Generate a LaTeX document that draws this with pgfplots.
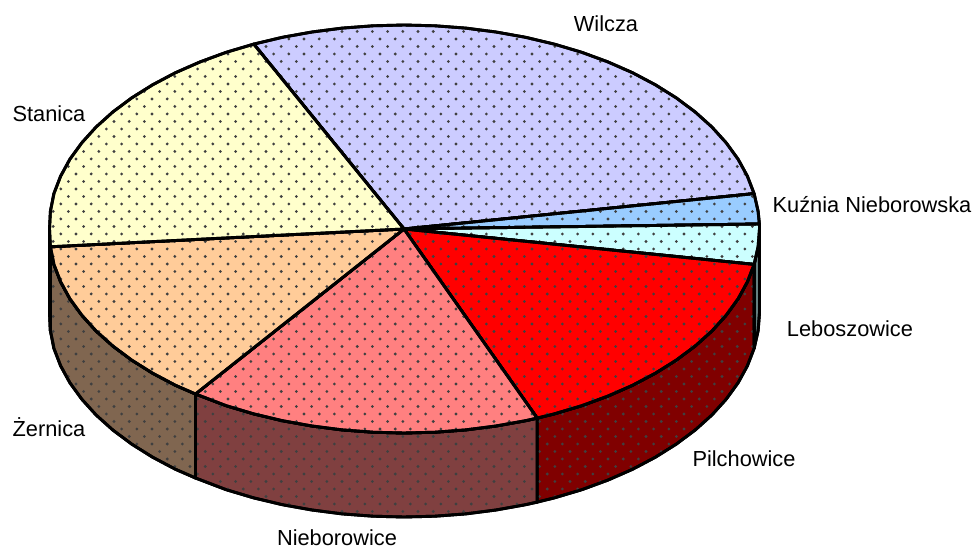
\documentclass[border=0pt]{standalone}
\usepackage{fontspec}
\setmainfont{Liberation Sans}
\usepackage{pgfplots}
\pgfplotsset{compat=1.18}
\usetikzlibrary{patterns}
\pgfdeclarepatternformonly{piedots}{\pgfqpoint{-2.5pt}{-2.5pt}}{\pgfqpoint{17.7pt}{17.5pt}}{\pgfqpoint{15.2pt}{15pt}}{
  \pgfpathcircle{\pgfqpoint{0pt}{0pt}}{1.55pt}
  \pgfpathcircle{\pgfqpoint{7.6pt}{7.5pt}}{1.55pt}
  \pgfusepath{fill}
}
\definecolor{cWil}{HTML}{CCCCFF}
\definecolor{cKuz}{HTML}{99CCFF}
\definecolor{cLeb}{HTML}{CCFFFF}
\definecolor{cPil}{HTML}{FF0000}
\definecolor{cNie}{HTML}{FF8080}
\definecolor{cZer}{HTML}{FFCC99}
\definecolor{cSta}{HTML}{FFFFCC}
\definecolor{sLeb}{HTML}{668080}
\definecolor{sPil}{HTML}{800000}
\definecolor{sNie}{HTML}{804040}
\definecolor{sZer}{HTML}{806650}
\definecolor{sSta}{HTML}{808066}
\tikzset{
  slice/.style={draw=black,line width=2.9pt,line join=round,preaction={fill=#1},pattern=piedots,pattern color=black!75},
  lab/.style={font=\fontsize{21.8pt}{26pt}\selectfont,inner sep=0pt}
}
\begin{document}
\begin{tikzpicture}
\begin{axis}[
  scale only axis,width=974pt,height=549pt,
  xmin=0,xmax=974,ymin=0,ymax=549,y dir=reverse,
  axis lines=none,clip=false]
\path (axis cs:0,0) rectangle (axis cs:974,549);
% side walls
\addplot[slice=sSta] coordinates {(49.5,229)(50.4,246.8)(50.4,330.8)(49.5,313)} --cycle;
\addplot[slice=sZer] coordinates {(50.4,246.8)(53.9,264.4)(60.6,281.8)(69.9,298.8)(81.8,315.2)(96.1,331)(112.8,346)(131.7,360.1)(152.6,373.2)(175.5,385.3)(195.5,394)
 (195.5,478)(175.5,469.3)(152.6,457.2)(131.7,444.1)(112.8,430)(96.1,415)(81.8,399.2)(69.9,382.8)(60.6,365.8)(53.9,348.4)(50.4,330.8)} --cycle;
\addplot[slice=sNie] coordinates {(195.5,394)(226.2,405.7)(253.8,413.9)(282.4,420.7)(312,426)(342.3,429.9)(373,432.2)(404,433)(435,432.2)(465.7,429.9)(496,426)(525.6,420.7)(537.2,418.1)
 (537.2,502.1)(525.6,504.7)(496,510)(465.7,513.9)(435,516.2)(404,517)(373,516.2)(342.3,513.9)(312,510)(282.4,504.7)(253.8,497.9)(226.2,489.7)(195.5,478)} --cycle;
\addplot[slice=sLeb] coordinates {(754.1,264.4)(758.1,246.8)(759.5,229)(759.5,313)(758.1,330.8)(754.1,348.4)} --cycle;
\addplot[slice=sPil] coordinates {(537.2,418.1)(554.2,413.9)(581.8,405.7)(607.9,396.1)(632.5,385.3)(655.4,373.2)(676.3,360.1)(695.2,346)(711.9,331)(726.2,315.2)(738.1,298.8)(747.4,281.8)(754.1,264.4)
 (754.1,348.4)(747.4,365.8)(738.1,382.8)(726.2,399.2)(711.9,415)(695.2,430)(676.3,444.1)(655.4,457.2)(632.5,469.3)(607.9,480.1)(581.8,489.7)(554.2,497.9)(537.2,502.1)} --cycle;
% top slices
\addplot[slice=cWil] coordinates {(404,229)(754.1,193.6)(747.4,176.2)(738.1,159.2)(726.2,142.8)(711.9,127)(695.2,112)(676.3,97.9)(655.4,84.8)(632.5,72.7)(607.9,61.9)(581.8,52.3)(554.2,44.1)(525.6,37.3)(496,32)(465.7,28.1)(435,25.8)(404,25)(373,25.8)(342.3,28.1)(312,32)(282.4,37.3)(253.8,44.1)} --cycle;
\addplot[slice=cKuz] coordinates {(404,229)(759.4,224)(758.1,211.2)(754.1,193.6)} --cycle;
\addplot[slice=cLeb] coordinates {(404,229)(754.1,264.4)(758.1,246.8)(759.5,229)(759.4,224)} --cycle;
\addplot[slice=cPil] coordinates {(404,229)(537.2,418.1)(554.2,413.9)(581.8,405.7)(607.9,396.1)(632.5,385.3)(655.4,373.2)(676.3,360.1)(695.2,346)(711.9,331)(726.2,315.2)(738.1,298.8)(747.4,281.8)(754.1,264.4)} --cycle;
\addplot[slice=cNie] coordinates {(404,229)(195.5,394)(226.2,405.7)(253.8,413.9)(282.4,420.7)(312,426)(342.3,429.9)(373,432.2)(404,433)(435,432.2)(465.7,429.9)(496,426)(525.6,420.7)(537.2,418.1)} --cycle;
\addplot[slice=cZer] coordinates {(404,229)(50.4,246.8)(53.9,264.4)(60.6,281.8)(69.9,298.8)(81.8,315.2)(96.1,331)(112.8,346)(131.7,360.1)(152.6,373.2)(175.5,385.3)(195.5,394)} --cycle;
\addplot[slice=cSta] coordinates {(404,229)(253.8,44.1)(226.2,52.3)(200.1,61.9)(175.5,72.7)(152.6,84.8)(131.7,97.9)(112.8,112)(96.1,127)(81.8,142.8)(69.9,159.2)(60.6,176.2)(53.9,193.6)(50.4,211.2)(49.5,229)(50.4,246.8)} --cycle;
\node[lab] at (axis cs:606,24) {Wilcza};
\node[lab] at (axis cs:49,114) {Stanica};
\node[lab] at (axis cs:872,205) {Kuźnia Nieborowska};
\node[lab] at (axis cs:850,329) {Leboszowice};
\node[lab] at (axis cs:744,459) {Pilchowice};
\node[lab] at (axis cs:49,427) {Żernica};
\node[lab] at (axis cs:337,538) {Nieborowice};
\end{axis}
\end{tikzpicture}
\end{document}
